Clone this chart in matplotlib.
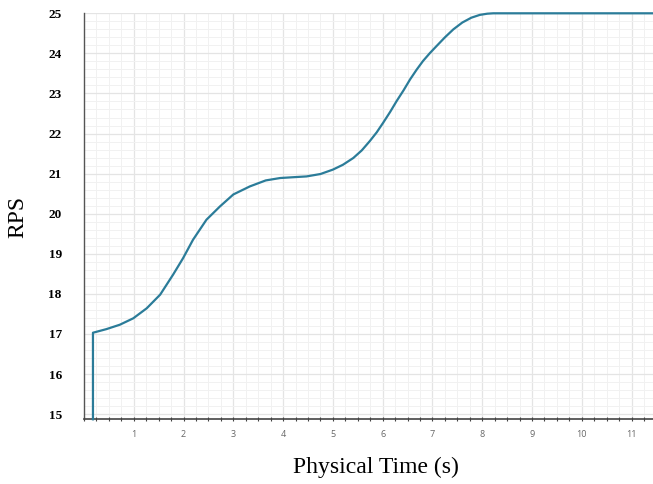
import matplotlib.pyplot as plt
from matplotlib.ticker import MultipleLocator

# physical time (s) and rotor speed (RPS)
time = [0.18, 0.18, 0.45, 0.72, 0.99, 1.26, 1.53, 1.79, 1.99, 2.19, 2.46,
        2.73, 3.0, 3.33, 3.65, 3.94, 4.2, 4.47, 4.75, 5.0, 5.2, 5.41, 5.58,
        5.74, 5.88, 6.01, 6.15, 6.28, 6.42, 6.55, 6.68, 6.81, 6.95, 7.08,
        7.25, 7.42, 7.6, 7.78, 7.95, 8.1, 8.22, 11.45]
rps = [14.87, 17.03, 17.12, 17.23, 17.39, 17.64, 17.98, 18.48, 18.89, 19.35,
       19.85, 20.18, 20.48, 20.68, 20.83, 20.89, 20.91, 20.93, 20.99, 21.1,
       21.22, 21.39, 21.58, 21.81, 22.03, 22.27, 22.54, 22.81, 23.08, 23.35,
       23.59, 23.81, 24.01, 24.18, 24.4, 24.6, 24.77, 24.89, 24.96, 24.99,
       25.0, 25.0]

x_ticks = list(range(1, 12))
y_ticks = list(range(15, 26))

fig = plt.figure(figsize=(6.53, 4.84), dpi=100)
ax = fig.add_axes([84 / 653, 1 - 419.3 / 484, 1 - 84 / 653, (419.3 - 13.3) / 484])

ax.plot(time, rps, color='#2b7c99', lw=1.6, clip_on=False, zorder=3,
        solid_joinstyle='round')

ax.set_xlim(0, 11.43)
ax.set_ylim(14.87, 25)

ax.set_xticks(x_ticks)
ax.xaxis.set_minor_locator(MultipleLocator(0.25))
ax.set_yticks(y_ticks)
ax.yaxis.set_minor_locator(MultipleLocator(0.2))

ax.grid(which='major', color='#e4e4e4', lw=0.9)
ax.grid(which='minor', color='#f1f1f1', lw=0.7)
ax.set_axisbelow(True)

for side in ['top', 'right']:
    ax.spines[side].set_visible(False)
ax.spines['left'].set_color('#555555')
ax.spines['bottom'].set_color('#444444')
ax.spines['left'].set_linewidth(1.0)
ax.spines['bottom'].set_linewidth(1.2)

ax.tick_params(axis='x', which='both', direction='inout', length=3,
               width=0.8, color='#444444', pad=6, labelsize=6.5,
               labelcolor='#666666')
ax.tick_params(axis='y', which='both', length=0, pad=16)
for lab in ax.get_xticklabels():
    lab.set_fontfamily('Open Sans')
for lab in ax.get_yticklabels():
    lab.set_fontfamily('Liberation Serif')
    lab.set_fontweight('bold')
    lab.set_fontsize(9.5)

fig.text(376 / 653, 1 - 467 / 484, 'Physical Time (s)', family='Liberation Serif',
         fontsize=17, ha='center', va='center')
fig.text(18 / 653, 1 - 217 / 484, 'RPS', family='Liberation Serif',
         fontsize=17, rotation=90, ha='center', va='center')

fig.savefig('out.png', dpi=100)
